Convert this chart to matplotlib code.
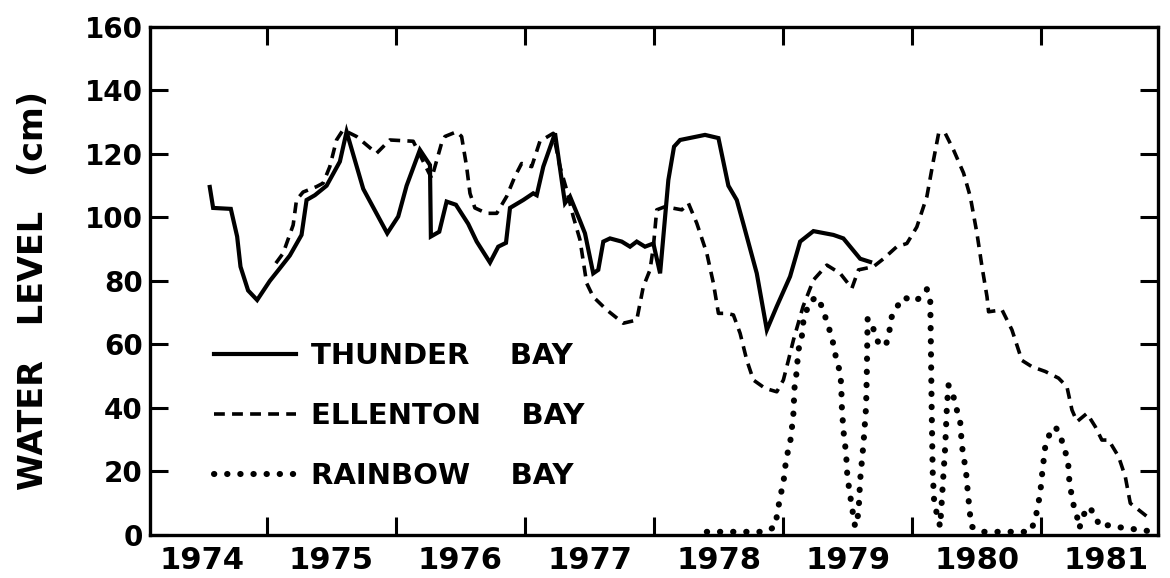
"""
Water levels of three Carolina bays, 1974-1981 (redrawn from a scanned figure).
"""
import numpy as np
import matplotlib
matplotlib.use('Agg')
import matplotlib.pyplot as plt
from matplotlib.ticker import FixedLocator, NullFormatter

# ============================================================
# Data, x in decimal years, y in cm
# ============================================================
thunder_t = [1974.558, 1974.584, 1974.721, 1974.770, 1974.796, 1974.855, 1974.925,
             1975.023, 1975.101, 1975.178, 1975.269, 1975.308, 1975.372, 1975.463,
             1975.566, 1975.618, 1975.747, 1975.933, 1976.018, 1976.083, 1976.186,
             1976.264, 1976.271, 1976.336, 1976.393, 1976.465, 1976.560, 1976.626,
             1976.729, 1976.793, 1976.853, 1976.884, 1976.987, 1977.064, 1977.091,
             1977.142, 1977.233, 1977.310, 1977.349, 1977.426, 1977.465, 1977.529,
             1977.568, 1977.607, 1977.659, 1977.750, 1977.814, 1977.866, 1977.930,
             1977.995, 1978.047, 1978.111, 1978.155, 1978.202, 1978.395, 1978.499,
             1978.576, 1978.641, 1978.692, 1978.796, 1978.874, 1978.951, 1979.054,
             1979.132, 1979.235, 1979.390, 1979.467, 1979.597, 1979.674]
thunder_wl = [109.6, 103.0, 102.7, 94.0, 84.5, 77.0, 74.0,
              80.0, 84.0, 88.0, 94.5, 105.5, 107.0, 110.0,
              117.6, 127.0, 109.0, 95.0, 100.3, 110.0, 121.3,
              116.5, 94.0, 95.5, 105.0, 104.0, 98.0, 92.4,
              85.8, 90.8, 92.0, 103.0, 105.5, 107.6, 107.0,
              116.0, 126.5, 104.5, 106.6, 99.0, 95.0, 82.4,
              83.5, 92.4, 93.4, 92.4, 90.8, 92.4, 90.8,
              91.8, 82.4, 111.8, 122.3, 124.4, 126.0, 125.0,
              110.0, 105.5, 98.0, 82.4, 64.6, 72.0, 81.4,
              92.4, 95.7, 94.5, 93.4, 87.0, 86.0]

ellenton_t = [1975.070, 1975.126, 1975.204, 1975.230, 1975.281, 1975.385, 1975.436,
              1975.488, 1975.540, 1975.591, 1975.695, 1975.850, 1975.953, 1976.134,
              1976.277, 1976.354, 1976.380, 1976.471, 1976.509, 1976.548, 1976.574,
              1976.612, 1976.703, 1976.781, 1976.858, 1976.922, 1976.974, 1977.052,
              1977.116, 1977.219, 1977.271, 1977.323, 1977.374, 1977.426, 1977.478,
              1977.529, 1977.633, 1977.762, 1977.866, 1977.917, 1977.969, 1977.995,
              1978.021, 1978.085, 1978.215, 1978.266, 1978.331, 1978.409, 1978.460,
              1978.499, 1978.564, 1978.615, 1978.667, 1978.719, 1978.770, 1978.860,
              1978.951, 1979.002, 1979.041, 1979.080, 1979.155, 1979.235, 1979.339,
              1979.442, 1979.533, 1979.584, 1979.700, 1979.778, 1979.881, 1979.959,
              1980.036, 1980.114, 1980.165, 1980.205, 1980.256, 1980.320, 1980.398,
              1980.450, 1980.502, 1980.541, 1980.580, 1980.592, 1980.696, 1980.773,
              1980.850, 1980.928, 1981.031, 1981.134, 1981.199, 1981.238, 1981.277,
              1981.354, 1981.419, 1981.470, 1981.522, 1981.599, 1981.651, 1981.690,
              1981.820]
ellenton_wl = [85.6, 88.7, 97.6, 105.5, 108.0, 109.7, 110.8,
               116.0, 124.4, 127.6, 125.5, 120.2, 124.4, 124.0,
               112.3, 123.4, 125.5, 127.0, 125.5, 116.0, 107.6,
               103.0, 101.3, 101.3, 106.6, 112.9, 117.0, 116.0,
               124.0, 126.5, 116.0, 108.7, 100.3, 93.0, 79.3,
               75.0, 70.9, 66.7, 67.7, 78.2, 83.5, 90.8,
               102.4, 103.4, 102.4, 104.5, 98.2, 88.7, 79.3,
               69.8, 69.8, 69.3, 63.5, 55.0, 48.8, 46.2,
               45.1, 48.8, 55.0, 61.4, 72.0, 80.3, 85.0,
               82.4, 77.7, 83.5, 84.5, 87.0, 90.8, 91.8,
               97.0, 106.6, 118.0, 126.5, 126.5, 121.3, 114.0,
               106.6, 95.0, 84.5, 75.0, 70.3, 70.9, 64.6,
               55.0, 53.0, 51.5, 49.4, 46.7, 39.4, 35.7,
               38.3, 34.1, 29.9, 29.9, 24.7, 18.4, 10.0,
               5.8]

rainbow_t = [1978.409, 1978.860, 1978.938, 1978.951, 1978.977, 1979.002, 1979.023,
             1979.060, 1979.080, 1979.088, 1979.101, 1979.119, 1979.145, 1979.157,
             1979.178, 1979.209, 1979.261, 1979.300, 1979.326, 1979.351, 1979.377,
             1979.411, 1979.436, 1979.450, 1979.455, 1979.467, 1979.488, 1979.498,
             1979.519, 1979.545, 1979.558, 1979.584, 1979.597, 1979.623, 1979.643,
             1979.649, 1979.652, 1979.655, 1979.694, 1979.719, 1979.745, 1979.797,
             1979.823, 1979.836, 1979.874, 1979.935, 1980.017, 1980.070, 1980.114,
             1980.140, 1980.145, 1980.151, 1980.159, 1980.171, 1980.202, 1980.217,
             1980.238, 1980.256, 1980.269, 1980.281, 1980.320, 1980.346, 1980.372,
             1980.385, 1980.398, 1980.416, 1980.432, 1980.450, 1980.463, 1980.540,
             1980.915, 1980.953, 1980.992, 1981.010, 1981.031, 1981.062, 1981.109,
             1981.147, 1981.173, 1981.207, 1981.219, 1981.238, 1981.258, 1981.284,
             1981.295, 1981.328, 1981.367, 1981.419, 1981.450, 1981.527, 1981.612,
             1981.822]
rainbow_wl = [1.0, 1.0, 2.6, 5.8, 12.0, 16.3, 23.6,
              30.5, 38.3, 46.2, 49.9, 58.3, 62.5, 67.2,
              70.3, 73.5, 75.0, 72.0, 68.8, 65.6, 62.5,
              55.6, 52.0, 47.8, 40.4, 33.0, 25.7, 18.4,
              12.6, 5.8, 2.6, 6.8, 17.3, 28.9, 40.4,
              52.0, 60.4, 68.2, 65.6, 62.5, 59.8, 59.8,
              64.0, 68.2, 71.4, 74.9, 73.5, 75.0, 77.4,
              74.0, 60.0, 40.0, 20.0, 10.0, 5.0, 2.6,
              16.3, 27.8, 40.4, 47.2, 43.6, 39.4, 35.7,
              28.3, 24.7, 20.5, 13.1, 5.8, 2.6, 1.0,
              1.0, 4.7, 13.1, 20.5, 27.8, 31.5, 34.1,
              31.5, 27.8, 23.6, 16.3, 12.1, 7.9, 4.9,
              2.1, 6.3, 8.9, 6.3, 2.8, 3.1, 2.4,
              1.3]

years = np.arange(1974, 1982)

# ============================================================
# Plot
# ============================================================
plt.rcParams['font.family'] = ['DejaVu Sans']
plt.rcParams['font.weight'] = 'bold'

fig = plt.figure(figsize=(11.7, 5.78), dpi=100)
ax = fig.add_axes([0.128, 0.0744, 0.862, 0.879])

ax.plot(thunder_t, thunder_wl, color='k', lw=3.0, solid_joinstyle='miter',
        label='THUNDER    BAY')
ax.plot(ellenton_t, ellenton_wl, color='k', lw=2.6, linestyle=(0, (3.0, 2.0)),
        label='ELLENTON    BAY')
ax.plot(rainbow_t, rainbow_wl, color='k', lw=4.4, linestyle=(0, (0.05, 2.1)),
        dash_capstyle='round', label='RAINBOW    BAY')

ax.set_xlim(1974.093, 1981.907)
ax.set_ylim(0, 160)

# year boundaries as tick marks, labels centred in each year
ax.xaxis.set_major_locator(FixedLocator(years[1:]))
ax.xaxis.set_major_formatter(NullFormatter())
ax.xaxis.set_minor_locator(FixedLocator(years + 0.5))
ax.set_xticklabels([str(y) for y in years], minor=True)
ax.tick_params(axis='x', which='major', direction='in', length=13, width=2.2,
               top=True, bottom=True)
ax.tick_params(axis='x', which='minor', length=0, pad=8, labelsize=22)

ax.set_yticks(np.arange(0, 161, 20))
ax.tick_params(axis='y', direction='in', length=13, width=2.2, left=True, right=True,
               pad=5, labelsize=20)

for sp in ax.spines.values():
    sp.set_linewidth(2.4)

fig.text(0.029, 0.498, 'WATER   LEVEL   (cm)', rotation=90, ha='center', va='center',
         fontsize=24)

ax.legend(loc='upper left', bbox_to_anchor=(0.064, 0.38), frameon=False,
          fontsize=21, handlelength=2.8, handletextpad=0.5, labelspacing=1.1,
          borderpad=0, borderaxespad=0)

fig.savefig('out.png', dpi=100)
plt.close()
